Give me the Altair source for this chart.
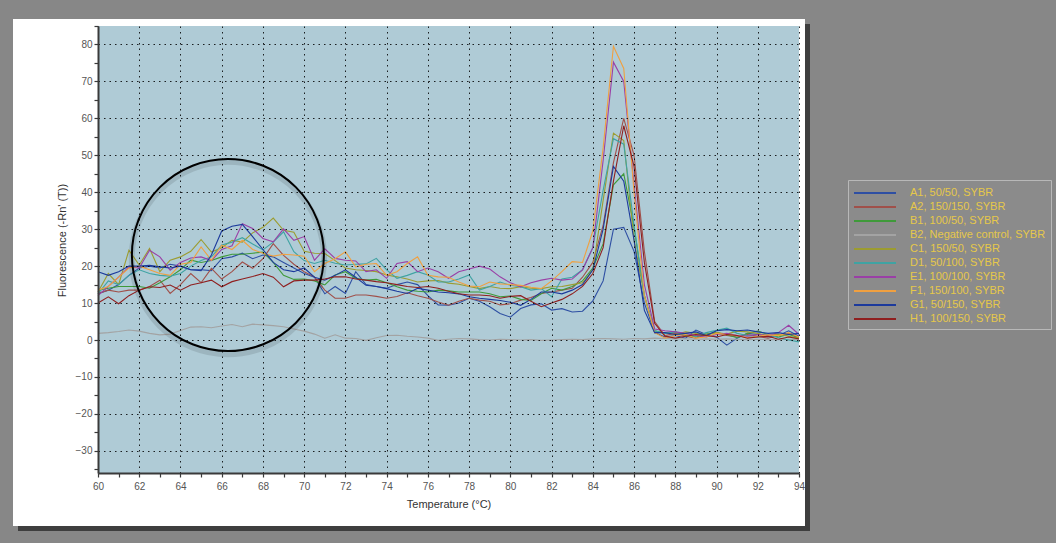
import altair as alt
import pandas as pd

# ---------------- data ----------------
temps = [60 + 0.5 * i for i in range(69)]  # 60 .. 94 °C

series_names = [
    "A1, 50/50, SYBR", "A2, 150/150, SYBR", "B1, 100/50, SYBR",
    "B2, Negative control, SYBR", "C1, 150/50, SYBR", "D1, 50/100, SYBR",
    "E1, 100/100, SYBR", "F1, 150/100, SYBR", "G1, 50/150, SYBR",
    "H1, 100/150, SYBR",
]
series_colors = [
    "#2e4fa3", "#a0504a", "#3f9a3a", "#a3a3a3", "#9c9c30",
    "#3fa3a3", "#9a3fa6", "#f0a040", "#1c3a9c", "#8f1f1f",
]

A1 = [12.5, 13.5, 15.0, 17.5, 19.5, 20.0, 19.5, 20.5, 20.0, 19.0,
      19.0, 18.8, 22.0, 22.5, 23.5, 22.0, 23.0, 22.5, 21.0, 19.5,
      18.0, 17.0, 12.5, 14.5, 12.6, 18.5, 15.0, 14.5, 14.0, 15.0,
      15.7, 15.0, 12.0, 9.5, 9.4, 10.0, 11.3, 10.5, 9.0, 7.2,
      6.2, 8.5, 9.5, 9.8, 8.1, 8.5, 7.6, 7.8, 10.6, 16.0,
      30.0, 30.5, 24.0, 10.0, 2.0, 0.8, 1.2, 0.5, 2.7, 1.5,
      0.8, -1.4, 0.5, 1.8, 1.5, 0.8, 1.2, 2.5, 1.0]
A2 = [12.6, 13.5, 13.0, 13.5, 13.5, 14.5, 16.2, 12.6, 15.0, 18.0,
      15.5, 19.4, 16.5, 18.5, 21.1, 19.4, 22.0, 26.1, 22.9, 20.5,
      18.5, 17.1, 13.5, 11.3, 11.3, 12.2, 12.2, 11.8, 11.3, 11.8,
      12.8, 12.0, 11.3, 10.3, 9.4, 10.5, 11.3, 10.8, 10.5, 9.5,
      9.8, 10.8, 11.5, 12.6, 13.0, 13.5, 14.0, 17.0, 21.0, 31.0,
      48.0, 60.0, 50.0, 24.0, 5.0, 1.2, 1.8, 1.0, 0.5, 1.5,
      2.0, 1.2, 0.8, 1.5, 1.0, 0.5, 1.2, 1.8, 0.8]
B1 = [13.5, 14.0, 14.5, 14.5, 14.5, 14.0, 15.5, 17.1, 19.0, 21.6,
      21.0, 21.5, 22.5, 23.2, 23.2, 23.5, 23.8, 21.0, 17.5, 16.4,
      16.5, 16.0, 14.9, 17.6, 18.5, 16.7, 16.2, 16.4, 15.5, 14.4,
      13.5, 13.2, 13.0, 13.5, 13.3, 13.0, 13.0, 13.0, 12.5, 11.7,
      11.9, 11.0, 10.7, 12.5, 14.0, 13.5, 14.5, 16.0, 19.5, 26.0,
      42.0, 45.0, 30.5, 12.0, 2.5, 1.8, 2.2, 1.2, 0.8, 1.6,
      2.0, 1.4, 0.6, 1.8, 2.4, 1.5, 0.8, 1.5, 0.6]
B2 = [1.8, 2.0, 2.3, 2.7, 2.4, 1.8, 1.4, 1.6, 2.6, 3.5,
      3.6, 3.3, 3.8, 4.2, 3.6, 4.3, 4.1, 3.9, 3.6, 3.0,
      2.4, 1.6, 0.5, 1.4, 0.5, 0.4, -0.1, 0.6, 1.2, 1.3,
      1.0, 0.8, 0.5, -0.1, 0.2, 0.4, 0.3, 0.1, 0.0, 0.2,
      0.1, 0.0, 0.1, -0.1, 0.0, 0.1, 0.2, 0.1, 0.3, 0.4,
      0.3, 0.2, 0.4, 0.3, 0.5, 0.4, 0.3, 0.3, 0.2, 0.3,
      0.2, 0.3, 0.2, 0.1, 0.2, 0.1, 0.1, 0.2, 0.1]
C1 = [13.0, 18.0, 15.0, 24.3, 20.3, 24.8, 18.5, 21.6, 22.5, 24.0,
      27.2, 23.8, 25.0, 27.0, 26.5, 29.0, 30.5, 33.0, 29.7, 29.2,
      24.0, 23.5, 23.4, 21.5, 19.5, 19.0, 18.8, 18.5, 17.6, 17.1,
      16.5, 15.7, 16.0, 16.1, 15.4, 15.1, 14.5, 13.9, 14.5, 14.0,
      13.9, 14.4, 14.0, 13.9, 14.4, 14.5, 15.0, 15.5, 19.0, 37.8,
      56.0, 54.0, 27.0, 12.0, 2.0, 2.0, 1.5, 2.2, 1.8, 1.5,
      2.0, 1.6, 2.4, 2.2, 1.8, 1.2, 1.6, 1.0, 0.5]
D1 = [12.5, 16.0, 15.0, 17.5, 19.0, 18.0, 17.5, 17.3, 18.0, 20.0,
      21.5, 22.5, 25.7, 26.5, 27.7, 26.0, 24.4, 26.5, 29.3, 23.9,
      21.5, 20.7, 21.6, 20.8, 20.3, 20.5, 20.6, 22.1, 19.0, 16.7,
      17.5, 18.5, 17.6, 15.7, 15.7, 16.5, 17.6, 13.5, 14.5, 15.7,
      14.8, 14.4, 13.5, 13.9, 11.7, 16.5, 17.0, 19.0, 25.0, 40.5,
      54.5, 53.0, 31.0, 12.0, 2.5, 1.8, 2.2, 1.5, 1.0, 2.0,
      2.6, 3.2, 1.8, 1.2, 0.8, 1.5, 0.6, 0.0, -0.5]
E1 = [12.0, 14.5, 17.0, 19.8, 19.5, 24.3, 22.5, 18.9, 21.0, 22.2,
      22.5, 21.5, 24.5, 25.5, 31.5, 30.2, 27.5, 26.6, 30.1, 27.0,
      28.0, 21.6, 24.7, 22.1, 21.6, 21.4, 18.5, 19.0, 16.7, 20.7,
      21.2, 18.5, 19.5, 18.5, 16.7, 18.5, 19.2, 20.0, 19.2, 17.1,
      15.5, 14.4, 15.5, 16.2, 16.7, 16.2, 16.5, 19.0, 25.0, 48.6,
      75.2, 70.0, 42.0, 15.0, 3.0, 2.5, 2.2, 1.8, 1.2, 0.8,
      1.5, 1.8, 1.2, 1.0, 1.5, 1.2, 2.0, 4.0, 1.5]
F1 = [13.5, 14.5, 17.0, 19.5, 20.0, 19.0, 18.0, 17.5, 20.5, 21.0,
      25.2, 21.6, 25.7, 24.5, 27.0, 24.5, 23.5, 22.7, 23.2, 23.0,
      22.7, 18.5, 20.7, 22.0, 23.9, 19.8, 20.5, 20.7, 17.5, 18.5,
      20.7, 22.5, 17.5, 17.1, 17.0, 15.7, 14.6, 14.4, 15.7, 15.2,
      15.0, 14.8, 14.3, 13.9, 16.0, 18.5, 21.2, 21.0, 29.5, 52.0,
      79.5, 73.5, 40.0, 12.0, 2.0, 0.5, 1.2, 1.5, 0.5, 0.8,
      1.8, 1.5, 1.2, 0.6, 1.0, 1.4, 1.2, 2.0, 0.8]
G1 = [18.5, 17.5, 18.5, 20.0, 20.0, 20.2, 19.8, 19.5, 20.0, 19.0,
      18.8, 23.0, 29.5, 30.8, 31.3, 28.0, 24.5, 21.0, 19.0, 18.5,
      19.5, 17.0, 16.2, 17.5, 19.0, 17.0, 14.8, 14.5, 13.9, 13.2,
      12.6, 14.0, 13.5, 13.0, 12.8, 12.5, 11.7, 11.3, 11.0, 10.7,
      10.2, 9.4, 11.0, 13.0, 13.0, 12.5, 13.5, 15.0, 19.0, 30.0,
      47.0, 43.0, 27.0, 8.0, 2.0, 2.0, 1.5, 1.8, 2.2, 1.2,
      2.5, 2.8, 2.5, 2.7, 2.2, 1.8, 2.0, 1.5, 1.8]
H1 = [10.0, 11.7, 9.8, 12.0, 13.5, 14.4, 14.2, 14.9, 13.5, 14.9,
      15.5, 16.2, 14.4, 15.8, 16.5, 17.2, 18.0, 17.0, 14.4, 16.0,
      16.2, 16.2, 16.5, 17.1, 17.1, 16.5, 16.2, 15.8, 15.5, 15.0,
      14.5, 14.2, 14.5, 14.0, 13.2, 12.5, 12.2, 12.2, 12.0, 11.3,
      11.8, 12.0, 10.5, 9.0, 10.0, 11.0, 12.5, 14.5, 18.0, 25.0,
      43.0, 58.0, 47.0, 21.0, 4.5, 1.0, 0.5, 1.0, 1.5, 1.2,
      0.8, 1.5, 1.2, 0.5, 0.8, 1.0, 0.2, 0.8, 0.3]

series_values = [A1, A2, B1, B2, C1, D1, E1, F1, G1, H1]

x_tick_values = list(range(60, 95))
y_tick_values = list(range(-35, 86, 5))

# highlighted region (circle annotation)
circle_temp = [66.3]
circle_fluor = [23.0]

rows = []
for name, vals in zip(series_names, series_values):
    for t, v in zip(temps, vals):
        rows.append({"series": name, "temp": t, "fluor": v})
df = pd.DataFrame(rows)
circle_df = pd.DataFrame({"temp": circle_temp, "fluor": circle_fluor})
one = pd.DataFrame({"k": [0]})

W, H = 701, 447
FONT = "Liberation Sans"

x_enc = alt.X(
    "temp:Q",
    scale=alt.Scale(domain=[60, 94], nice=False, zero=False),
    axis=alt.Axis(
        values=x_tick_values,
        labelExpr="datum.value % 2 == 0 ? datum.label : ''",
        grid=True, gridColor="black", gridDash=[1.5, 4], gridWidth=1,
        gridOpacity=alt.condition("datum.value % 2 == 0", alt.value(0.85), alt.value(0)),
        domainColor="#3a3a3a", domainWidth=2,
        tickColor="#3a3a3a", tickWidth=1.2, tickSize=4,
        labelFont=FONT, labelFontSize=10, labelColor="#555555",
        labelPadding=4, labelFlush=False,
        title="Temperature (°C)", titleFont=FONT, titleFontSize=11,
        titleFontWeight="normal", titleColor="#333333", titlePadding=7,
        zindex=1,
    ),
)
y_enc = alt.Y(
    "fluor:Q",
    scale=alt.Scale(domain=[-36, 85], nice=False, zero=False),
    axis=alt.Axis(
        values=y_tick_values,
        labelExpr="datum.value % 10 == 0 ? datum.label : ''",
        grid=True, gridColor="black", gridDash=[1.5, 4], gridWidth=1,
        gridOpacity=alt.condition("datum.value % 10 == 0", alt.value(0.85), alt.value(0)),
        domainColor="#3a3a3a", domainWidth=2,
        tickColor="#3a3a3a", tickWidth=1.2, tickSize=4,
        labelFont=FONT, labelFontSize=10, labelColor="#555555",
        labelPadding=2,
        title="Fluorescence (-Rn' (T))", titleFont=FONT, titleFontSize=11,
        titleFontWeight="normal", titleColor="#333333", titlePadding=8,
        titleY=214,
        zindex=1,
    ),
)

shadow = alt.Chart(one).mark_rect(color="#3e3e3e").encode(
    x=alt.value(-80), x2=alt.value(712), y=alt.value(-2), y2=alt.value(505))
panel = alt.Chart(one).mark_rect(color="white").encode(
    x=alt.value(-85), x2=alt.value(707), y=alt.value(-7), y2=alt.value(500))
plotbg = alt.Chart(one).mark_rect(color="#afcbd6").encode(
    x=alt.value(0), x2=alt.value(W), y=alt.value(0), y2=alt.value(H))

lines = alt.Chart(df).mark_line(strokeWidth=1.1).encode(
    x=x_enc,
    y=y_enc,
    color=alt.Color(
        "series:N",
        scale=alt.Scale(domain=series_names, range=series_colors),
        legend=alt.Legend(
            title=None, orient="none", legendX=750, legendY=154,
            symbolType="M-3,0L3,0", symbolSize=196, symbolStrokeWidth=2,
            symbolOffset=14, labelOffset=27, padding=5, rowPadding=1,
            fillColor="#8b8b8b", strokeColor="#b8b8b8",
            labelColor="#e6c84a", labelFont=FONT, labelFontSize=11,
            labelLimit=300,
        ),
    ),
)

circle_shadow = alt.Chart(circle_df).mark_point(
    shape="circle", filled=False, size=37000, stroke="#000000",
    strokeWidth=6, opacity=0.1, yOffset=3,
).encode(x=x_enc, y=y_enc)
circle = alt.Chart(circle_df).mark_point(
    shape="circle", filled=False, size=36864, stroke="#000000",
    strokeWidth=2, opacity=1,
).encode(x=x_enc, y=y_enc)

chart = alt.layer(shadow, panel, plotbg, lines, circle_shadow, circle).properties(
    width=W, height=H,
    padding={"left": 98, "top": 26, "right": 1056 - 98 - W, "bottom": 543 - 26 - H},
    autosize=alt.AutoSizeParams(type="none"),
).configure(background="#878787").configure_view(strokeWidth=0)

chart.save("out.html", embed_options={"renderer": "svg", "actions": False})
